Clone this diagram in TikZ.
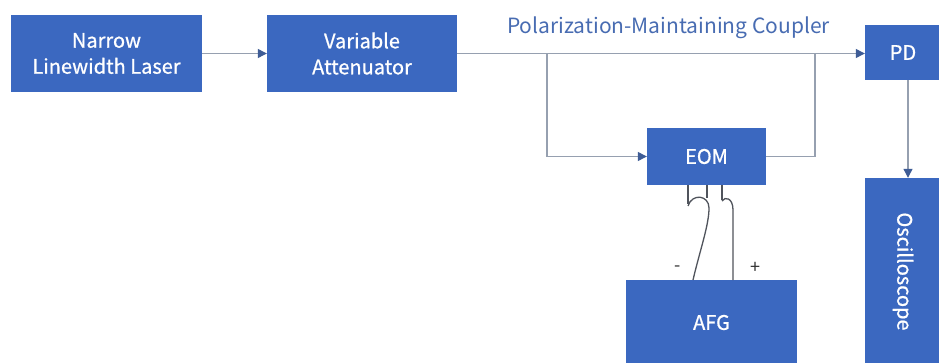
\documentclass[tikz,border=0pt]{standalone}
\usepackage{fontspec}
\setmainfont{Noto Sans CJK SC}
\newfontfamily\boxfont{Noto Sans CJK SC}[FakeBold=0.8]
\usetikzlibrary{arrows.meta}
\definecolor{boxblue}{RGB}{59,104,192}
\definecolor{linegray}{RGB}{150,160,176}
\definecolor{tipblue}{RGB}{62,92,150}
\definecolor{labelblue}{RGB}{72,108,178}
\definecolor{wiregray}{RGB}{80,84,92}
\begin{document}
\begin{tikzpicture}[x=1pt,y=-1pt,
  blk/.style={fill=boxblue,draw=none,text=white,font=\boxfont\fontsize{20}{26}\selectfont,align=center,inner sep=0pt},
  conn/.style={draw=linegray,line width=1.2pt},
  arr/.style={conn,-{Triangle[length=9pt,width=9pt,color=tipblue]}},
  wire/.style={draw=wiregray,line width=1.3pt},
]
\useasboundingbox (0,0) rectangle (939,363);
\fill[white] (0,0) rectangle (939,363);
\node[blk,minimum width=191pt,minimum height=77pt] (laser) at (106.5,53.5) {Narrow\\Linewidth Laser};
\node[blk,minimum width=190pt,minimum height=77pt] (att) at (362,53.5) {Variable\\Attenuator};
\node[blk,minimum width=76pt,minimum height=55pt] (pd) at (903,52.5) {PD};
\node[blk,minimum width=76pt,minimum height=187pt] (osc) at (903,271.5) {};
\node[rotate=-90,text=white,font=\boxfont\fontsize{20}{26}\selectfont] (osclabel) at (osc.center) {Oscilloscope};
\node[blk,minimum width=119pt,minimum height=57pt] (eom) at (706.5,156.5) {EOM};
\node[blk,minimum width=171pt,minimum height=85pt] (afg) at (711.5,322.5) {AFG};
\node[text=labelblue,font=\fontsize{21}{24}\selectfont,anchor=base west,inner sep=0pt] (coupler) at (507,34) {Polarization-Maintaining Coupler};

\coordinate (s1) at (547,53.5);
\coordinate (s2) at (815,53.5);
\draw[arr] (laser.east) -- (att.west);
\draw[arr] (att.east) -- (pd.west |- att.east);
\draw[arr] (s1) -- (s1 |- eom.west) -- (eom.west);
\draw[conn] (eom.east) -- (s2 |- eom.east) -- (s2);
\draw[arr] (pd.south -| 908,0) -- (osc.north -| 908,0);

% electrode stubs and wires
\coordinate (e1) at (688,185);
\coordinate (e2) at (707,185);
\coordinate (e3) at (722,185);
\coordinate (a1) at (693,280);
\coordinate (a2) at (733,280);
\draw[wire] (e1) -- ++(0,19);
\draw[wire] (e2) -- ++(0,13);
\draw[wire] (e3) -- ++(0,15);
\draw[wire] (a1) .. controls (700,250) and (709,225) .. (709,208) .. controls (709,195) and (692,193) .. (688,206);
\draw[wire] (a2) -- (733,210) .. controls (733,198) and (725,196) .. (722,201);
\node[font=\fontsize{18}{20}\selectfont,text=black!80] (minus) at (678,269) {-};
\node[font=\fontsize{18}{20}\selectfont,text=black!80] (plus) at (755,268) {+};
\end{tikzpicture}
\end{document}
